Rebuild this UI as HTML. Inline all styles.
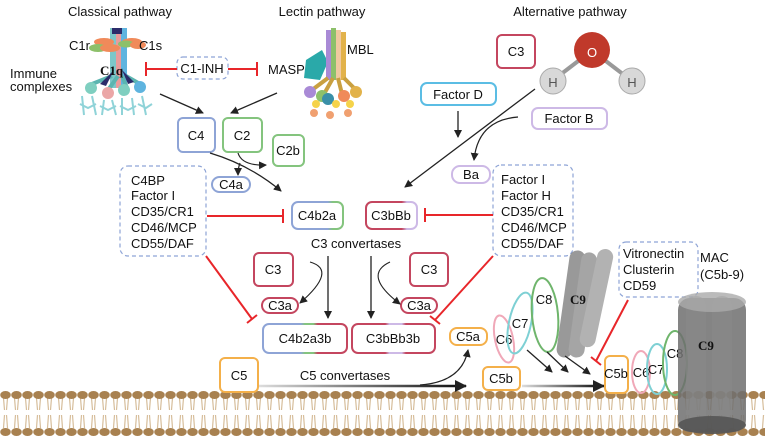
<!DOCTYPE html>
<html><head><meta charset="utf-8"><style>
html,body{margin:0;padding:0;background:#fff}
svg{display:block}
text{font-family:"Liberation Sans",sans-serif;font-size:13px;fill:#111}
</style></head><body>
<svg width="765" height="443" viewBox="0 0 765 443" xmlns="http://www.w3.org/2000/svg">
<defs>
<marker id="a" markerWidth="8" markerHeight="8" refX="7" refY="4" orient="auto" markerUnits="userSpaceOnUse"><path d="M0,0 L8,4 L0,8 z" fill="#222"/></marker>
<marker id="ab" markerWidth="12" markerHeight="12" refX="11" refY="6" orient="auto" markerUnits="userSpaceOnUse"><path d="M0,0 L12,6 L0,12 z" fill="#222"/></marker>
<linearGradient id="gl1" gradientUnits="userSpaceOnUse" x1="259" y1="0" x2="460" y2="0"><stop offset="0" stop-color="#ddd"/><stop offset="1" stop-color="#111"/></linearGradient>
<linearGradient id="gl2" gradientUnits="userSpaceOnUse" x1="522" y1="0" x2="600" y2="0"><stop offset="0" stop-color="#ddd"/><stop offset="1" stop-color="#111"/></linearGradient>
<linearGradient id="cb" x1="0" x2="1"><stop offset="0" stop-color="#8ea4d6"/><stop offset="0.45" stop-color="#8ea4d6"/><stop offset="0.5" stop-color="#84c47e"/><stop offset="0.6" stop-color="#84c47e"/><stop offset="0.65" stop-color="#c4465f"/><stop offset="1" stop-color="#c4465f"/></linearGradient>
<linearGradient id="c42" x1="0" x2="1"><stop offset="0" stop-color="#8ea4d6"/><stop offset="0.7" stop-color="#8ea4d6"/><stop offset="0.8" stop-color="#84c47e"/><stop offset="1" stop-color="#84c47e"/></linearGradient>
<linearGradient id="c3b" x1="0" x2="1"><stop offset="0" stop-color="#c4465f"/><stop offset="0.7" stop-color="#c4465f"/><stop offset="0.8" stop-color="#cdb9e6"/><stop offset="1" stop-color="#cdb9e6"/></linearGradient>
<linearGradient id="c3bb" x1="0" x2="1"><stop offset="0" stop-color="#c4465f"/><stop offset="0.4" stop-color="#c4465f"/><stop offset="0.45" stop-color="#cdb9e6"/><stop offset="0.6" stop-color="#cdb9e6"/><stop offset="0.65" stop-color="#c4465f"/></linearGradient>
<pattern id="mem" width="11" height="50" patternUnits="userSpaceOnUse" x="0" y="390">
<path d="M3.5,8 L4.5,20 M7.5,8 L6.5,20 M4.5,25 L3.5,38 M6.5,25 L7.5,38" stroke="#d6bd9a" stroke-width="1.2" fill="none"/>
<ellipse cx="5.5" cy="5" rx="5.3" ry="4" fill="#a88150"/>
<ellipse cx="5.5" cy="42" rx="5.3" ry="4" fill="#a88150"/>
</pattern>
</defs>

<rect x="0" y="390" width="765" height="50" fill="url(#mem)"/>

<text x="120" y="16" text-anchor="middle" font-size="12">Classical pathway</text>
<text x="322" y="16" text-anchor="middle" font-size="12">Lectin pathway</text>
<text x="570" y="16" text-anchor="middle" font-size="12">Alternative pathway</text>

<g>
<rect x="110" y="28" width="6" height="60" fill="#7cc7c9"/>
<rect x="116" y="28" width="5" height="60" fill="#e99b9b"/>
<rect x="121" y="28" width="6" height="60" fill="#5fb4df"/>
<rect x="112" y="28" width="10" height="6" fill="#2c2c6a"/>
<ellipse cx="104" cy="42" rx="10" ry="4" fill="#f08a5a"/><ellipse cx="132" cy="42" rx="10" ry="4" fill="#f08a5a"/>
<ellipse cx="98" cy="48" rx="9" ry="4" fill="#8dc06a"/><ellipse cx="126" cy="44" rx="8" ry="3.5" fill="#8dc06a"/>
<ellipse cx="110" cy="48" rx="10" ry="4" fill="#f08a5a"/><ellipse cx="138" cy="45" rx="8" ry="4" fill="#f08a5a"/>
<path d="M112,76 L92,84 M118,76 L108,90 M122,76 L128,90 M126,76 L140,84" stroke="#5bb5b0" stroke-width="4"/>
<path d="M114,70 L100,84 L106,86z" fill="#2c2c6a"/><path d="M122,70 L128,84 L134,82z" fill="#2c2c6a"/>
<circle cx="91" cy="88" r="6" fill="#7fcfc0"/><circle cx="108" cy="93" r="6" fill="#eba7a7"/><circle cx="124" cy="90" r="6" fill="#7fcfc0"/><circle cx="140" cy="87" r="6" fill="#5fb4df"/>
<path d="M82,96 L84,115 M92,96 L96,115 M104,100 L102,115 M112,100 L116,115 M122,98 L122,115 M132,98 L134,115 M142,96 L146,115 M80,104 L88,108 L96,104 M100,106 L108,110 L116,106 M120,106 L128,110 L136,106 M138,104 L146,108 L152,104" stroke="#8fd3d8" stroke-width="2" fill="none"/>
</g>
<text x="69" y="50">C1r</text>
<text x="139" y="50">C1s</text>
<text x="100" y="75" font-weight="bold" font-size="18" style="font-family:'Liberation Serif',serif">C1q</text>
<text x="10" y="78">Immune</text>
<text x="10" y="91">complexes</text>

<rect x="177" y="57" width="51" height="22" rx="6" fill="none" stroke="#8ea4d6" stroke-width="1.2" stroke-dasharray="4,3"/>
<text x="202" y="73" text-anchor="middle">C1-INH</text>
<path d="M177,69 H146 M146,62 V76 M228,69 H257 M257,62 V76" stroke="#e8262a" stroke-width="2" fill="none"/>
<text x="268" y="74">MASP</text>
<text x="347" y="54">MBL</text>

<g>
<path d="M306,60 L322,50 L328,62 L320,80 L304,78z" fill="#2aa9a9"/>
<rect x="326" y="30" width="5" height="50" fill="#a98ad6"/><rect x="331" y="28" width="5" height="52" fill="#8dc06a"/><rect x="336" y="30" width="5" height="50" fill="#f0c9a0"/><rect x="341" y="32" width="5" height="48" fill="#e2b24a"/>
<path d="M328,78 L312,90 M333,78 L324,94 M338,78 L342,94 M344,78 L356,90" stroke="#c9a040" stroke-width="4"/>
<circle cx="310" cy="92" r="6" fill="#a98ad6"/><circle cx="322" cy="96" r="6" fill="#8dc06a"/><circle cx="344" cy="96" r="6" fill="#f08a5a"/><circle cx="356" cy="92" r="6" fill="#e2b24a"/>
<circle cx="328" cy="99" r="6" fill="#3a8fa8"/>
<circle cx="316" cy="104" r="4" fill="#f5d34a"/><circle cx="336" cy="104" r="4" fill="#f5d34a"/><circle cx="350" cy="104" r="4" fill="#f5d34a"/>
<circle cx="314" cy="113" r="4" fill="#f0a070"/><circle cx="330" cy="115" r="4" fill="#f0a070"/><circle cx="348" cy="113" r="4" fill="#f0a070"/>
</g>

<line x1="160" y1="94" x2="203" y2="113" stroke="#222" stroke-width="1.3" marker-end="url(#a)"/>
<line x1="277" y1="93" x2="231" y2="113" stroke="#222" stroke-width="1.3" marker-end="url(#a)"/>

<rect x="178" y="118" width="37" height="34" rx="5" fill="#fff" stroke="#8ea4d6" stroke-width="2"/><text x="196" y="140" text-anchor="middle">C4</text>
<rect x="223" y="118" width="39" height="34" rx="5" fill="#fff" stroke="#84c47e" stroke-width="2"/><text x="242" y="140" text-anchor="middle">C2</text>
<rect x="273" y="135" width="31" height="31" rx="5" fill="#fff" stroke="#84c47e" stroke-width="2"/><text x="288" y="155" text-anchor="middle">C2b</text>
<rect x="212" y="177" width="38" height="15" rx="7.5" fill="#fff" stroke="#8ea4d6" stroke-width="2"/><text x="231" y="189" text-anchor="middle">C4a</text>
<path d="M210,153 Q250,165 281,191" stroke="#222" stroke-width="1.2" fill="none" marker-end="url(#a)"/>
<path d="M238,153 Q242,166 266,165" stroke="#222" stroke-width="1.2" fill="none" marker-end="url(#a)"/>
<path d="M240,163 Q238,168 238,175" stroke="#222" stroke-width="1.2" fill="none" marker-end="url(#a)"/>

<rect x="120" y="166" width="86" height="90" rx="8" fill="none" stroke="#8ea4d6" stroke-width="1.2" stroke-dasharray="4,3"/>
<text x="131" y="185">C4BP</text><text x="131" y="200">Factor I</text><text x="131" y="216">CD35/CR1</text><text x="131" y="232">CD46/MCP</text><text x="131" y="248">CD55/DAF</text>
<path d="M207,216 H283 M283,209 V223" stroke="#e8262a" stroke-width="2" fill="none"/>

<rect x="292" y="202" width="51" height="27" rx="6" fill="#fff" stroke="url(#c42)" stroke-width="2"/><text x="317" y="220" text-anchor="middle">C4b2a</text>
<rect x="366" y="202" width="51" height="27" rx="6" fill="#fff" stroke="url(#c3b)" stroke-width="2"/><text x="391" y="220" text-anchor="middle">C3bBb</text>
<text x="356" y="248" text-anchor="middle">C3 convertases</text>

<rect x="493" y="165" width="80" height="91" rx="8" fill="none" stroke="#8ea4d6" stroke-width="1.2" stroke-dasharray="4,3"/>
<text x="501" y="184">Factor I</text><text x="501" y="200">Factor H</text><text x="501" y="216">CD35/CR1</text><text x="501" y="232">CD46/MCP</text><text x="501" y="248">CD55/DAF</text>
<path d="M493,215 H425 M425,208 V222" stroke="#e8262a" stroke-width="2" fill="none"/>

<rect x="497" y="35" width="38" height="33" rx="5" fill="#fff" stroke="#c4465f" stroke-width="2"/><text x="516" y="56" text-anchor="middle">C3</text>
<line x1="556" y1="78" x2="590" y2="52" stroke="#999" stroke-width="4"/><line x1="628" y1="78" x2="594" y2="52" stroke="#999" stroke-width="4"/>
<circle cx="553" cy="81" r="13" fill="#d8d8d8" stroke="#aaa"/><circle cx="632" cy="81" r="13" fill="#d8d8d8" stroke="#aaa"/>
<circle cx="592" cy="50" r="18" fill="#c0392b"/>
<text x="553" y="87" text-anchor="middle" font-size="16" style="fill:#555">H</text>
<text x="632" y="87" text-anchor="middle" font-size="16" style="fill:#555">H</text>
<text x="592" y="57" text-anchor="middle" font-size="20" style="fill:#fff">O</text>
<rect x="421" y="83" width="75" height="22" rx="6" fill="#fff" stroke="#5bbde4" stroke-width="2"/><text x="458" y="99" text-anchor="middle">Factor D</text>
<rect x="532" y="108" width="75" height="21" rx="6" fill="#fff" stroke="#cdb9e6" stroke-width="2"/><text x="569" y="123" text-anchor="middle">Factor B</text>
<rect x="452" y="166" width="38" height="17" rx="8" fill="#fff" stroke="#cdb9e6" stroke-width="2"/><text x="471" y="179" text-anchor="middle">Ba</text>
<line x1="458" y1="111" x2="458" y2="137" stroke="#222" stroke-width="1.3" marker-end="url(#a)"/>
<line x1="535" y1="89" x2="405" y2="187" stroke="#222" stroke-width="1.3" marker-end="url(#a)"/>
<path d="M518,117 Q478,120 474,160" stroke="#222" stroke-width="1.2" fill="none" marker-end="url(#a)"/>

<rect x="254" y="253" width="39" height="33" rx="5" fill="#fff" stroke="#c4465f" stroke-width="2"/><text x="273" y="274" text-anchor="middle">C3</text>
<rect x="410" y="253" width="38" height="33" rx="5" fill="#fff" stroke="#c4465f" stroke-width="2"/><text x="429" y="274" text-anchor="middle">C3</text>
<rect x="262" y="298" width="36" height="15" rx="7.5" fill="#fff" stroke="#c4465f" stroke-width="2"/><text x="280" y="310" text-anchor="middle">C3a</text>
<rect x="401" y="298" width="36" height="15" rx="7.5" fill="#fff" stroke="#c4465f" stroke-width="2"/><text x="419" y="310" text-anchor="middle">C3a</text>
<line x1="328" y1="256" x2="328" y2="318" stroke="#222" stroke-width="1.3" marker-end="url(#a)"/>
<line x1="371" y1="256" x2="371" y2="318" stroke="#222" stroke-width="1.3" marker-end="url(#a)"/>
<path d="M310,262 Q338,270 300,303" stroke="#222" stroke-width="1.1" fill="none" marker-end="url(#a)"/>
<path d="M390,262 Q362,275 400,304" stroke="#222" stroke-width="1.1" fill="none" marker-end="url(#a)"/>
<rect x="263" y="324" width="84" height="29" rx="6" fill="#fff" stroke="url(#cb)" stroke-width="2"/><text x="305" y="343" text-anchor="middle">C4b2a3b</text>
<rect x="352" y="324" width="83" height="29" rx="6" fill="#fff" stroke="url(#c3bb)" stroke-width="2"/><text x="393" y="343" text-anchor="middle">C3bBb3b</text>
<path d="M206,256 L252,319 M247,323 L257,315" stroke="#e8262a" stroke-width="2" fill="none"/>
<path d="M493,256 L435,320 M430,316 L440,324" stroke="#e8262a" stroke-width="2" fill="none"/>

<rect x="220" y="358" width="38" height="34" rx="5" fill="#fff" stroke="#f4b04a" stroke-width="2"/><text x="239" y="380" text-anchor="middle">C5</text>
<text x="345" y="380" text-anchor="middle">C5 convertases</text>
<path d="M259,386 L466,386" stroke="url(#gl1)" stroke-width="2.5" fill="none" marker-end="url(#ab)"/>
<path d="M420,385 Q462,382 468,350" stroke="#222" stroke-width="1.2" fill="none" marker-end="url(#a)"/>
<rect x="450" y="328" width="37" height="17" rx="7" fill="#fff" stroke="#f4b04a" stroke-width="2"/><text x="468" y="341" text-anchor="middle">C5a</text>
<rect x="483" y="367" width="37" height="23" rx="5" fill="#fff" stroke="#f4b04a" stroke-width="2"/><text x="501" y="383" text-anchor="middle">C5b</text>
<path d="M522,386 L604,386" stroke="url(#gl2)" stroke-width="2.5" fill="none" marker-end="url(#ab)"/>

<ellipse cx="504" cy="339" rx="9" ry="24" transform="rotate(-12 504 339)" fill="none" stroke="#f0a8b8" stroke-width="2"/><text x="504" y="344" text-anchor="middle">C6</text>
<ellipse cx="520" cy="323" rx="11" ry="31" transform="rotate(12 520 323)" fill="none" stroke="#7ed0d4" stroke-width="2"/><text x="520" y="328" text-anchor="middle">C7</text>
<ellipse cx="545" cy="315" rx="13" ry="37" transform="rotate(-5 545 315)" fill="none" stroke="#6fb56c" stroke-width="2"/><text x="544" y="304" text-anchor="middle">C8</text>
<g fill="#777" opacity="0.75">
<rect x="563" y="250" width="16" height="108" rx="8" transform="rotate(8 571 304)"/>
<rect x="575" y="252" width="16" height="106" rx="8" transform="rotate(8 583 304)" fill="#888"/>
<rect x="588" y="248" width="16" height="100" rx="8" transform="rotate(12 596 300)" fill="#999"/>
</g>
<text x="570" y="304" font-weight="bold" style="font-family:'Liberation Serif',serif">C9</text>
<line x1="527" y1="350" x2="552" y2="372" stroke="#222" stroke-width="1.3" marker-end="url(#a)"/>
<line x1="547" y1="352" x2="568" y2="372" stroke="#222" stroke-width="1.3" marker-end="url(#a)"/>
<line x1="565" y1="356" x2="590" y2="374" stroke="#222" stroke-width="1.3" marker-end="url(#a)"/>

<rect x="619" y="242" width="79" height="55" rx="7" fill="none" stroke="#8ea4d6" stroke-width="1.2" stroke-dasharray="4,3"/>
<text x="623" y="258">Vitronectin</text><text x="623" y="274">Clusterin</text><text x="623" y="290">CD59</text>
<path d="M628,300 L596,361 M591,357 L601,365" stroke="#e8262a" stroke-width="2" fill="none"/>
<text x="700" y="262">MAC</text><text x="700" y="279">(C5b-9)</text>

<rect x="605" y="356" width="23" height="37" rx="5" fill="#fff" stroke="#f4b04a" stroke-width="2"/><text x="616" y="378" text-anchor="middle" font-size="12">C5b</text>
<ellipse cx="641" cy="372" rx="9" ry="21" fill="none" stroke="#f0a8b8" stroke-width="2"/><text x="641" y="377" text-anchor="middle">C6</text>
<ellipse cx="657" cy="369" rx="10" ry="25" fill="none" stroke="#7ed0d4" stroke-width="2"/><text x="656" y="374" text-anchor="middle">C7</text>
<ellipse cx="675" cy="363" rx="12" ry="32" fill="none" stroke="#6fb56c" stroke-width="2"/><text x="675" y="358" text-anchor="middle">C8</text>
<g>
<rect x="678" y="298" width="68" height="134" rx="12" fill="#6f6f6f" opacity="0.85"/>
<rect x="686" y="296" width="20" height="136" rx="10" fill="#888" opacity="0.6"/>
<rect x="712" y="296" width="20" height="136" rx="10" fill="#888" opacity="0.6"/>
<ellipse cx="712" cy="302" rx="34" ry="10" fill="#aaa" opacity="0.8"/>
<ellipse cx="712" cy="425" rx="34" ry="9" fill="#555" opacity="0.9"/>
</g>
<text x="698" y="350" font-weight="bold" font-size="18" style="font-family:'Liberation Serif',serif">C9</text>
</svg>
</body></html>
